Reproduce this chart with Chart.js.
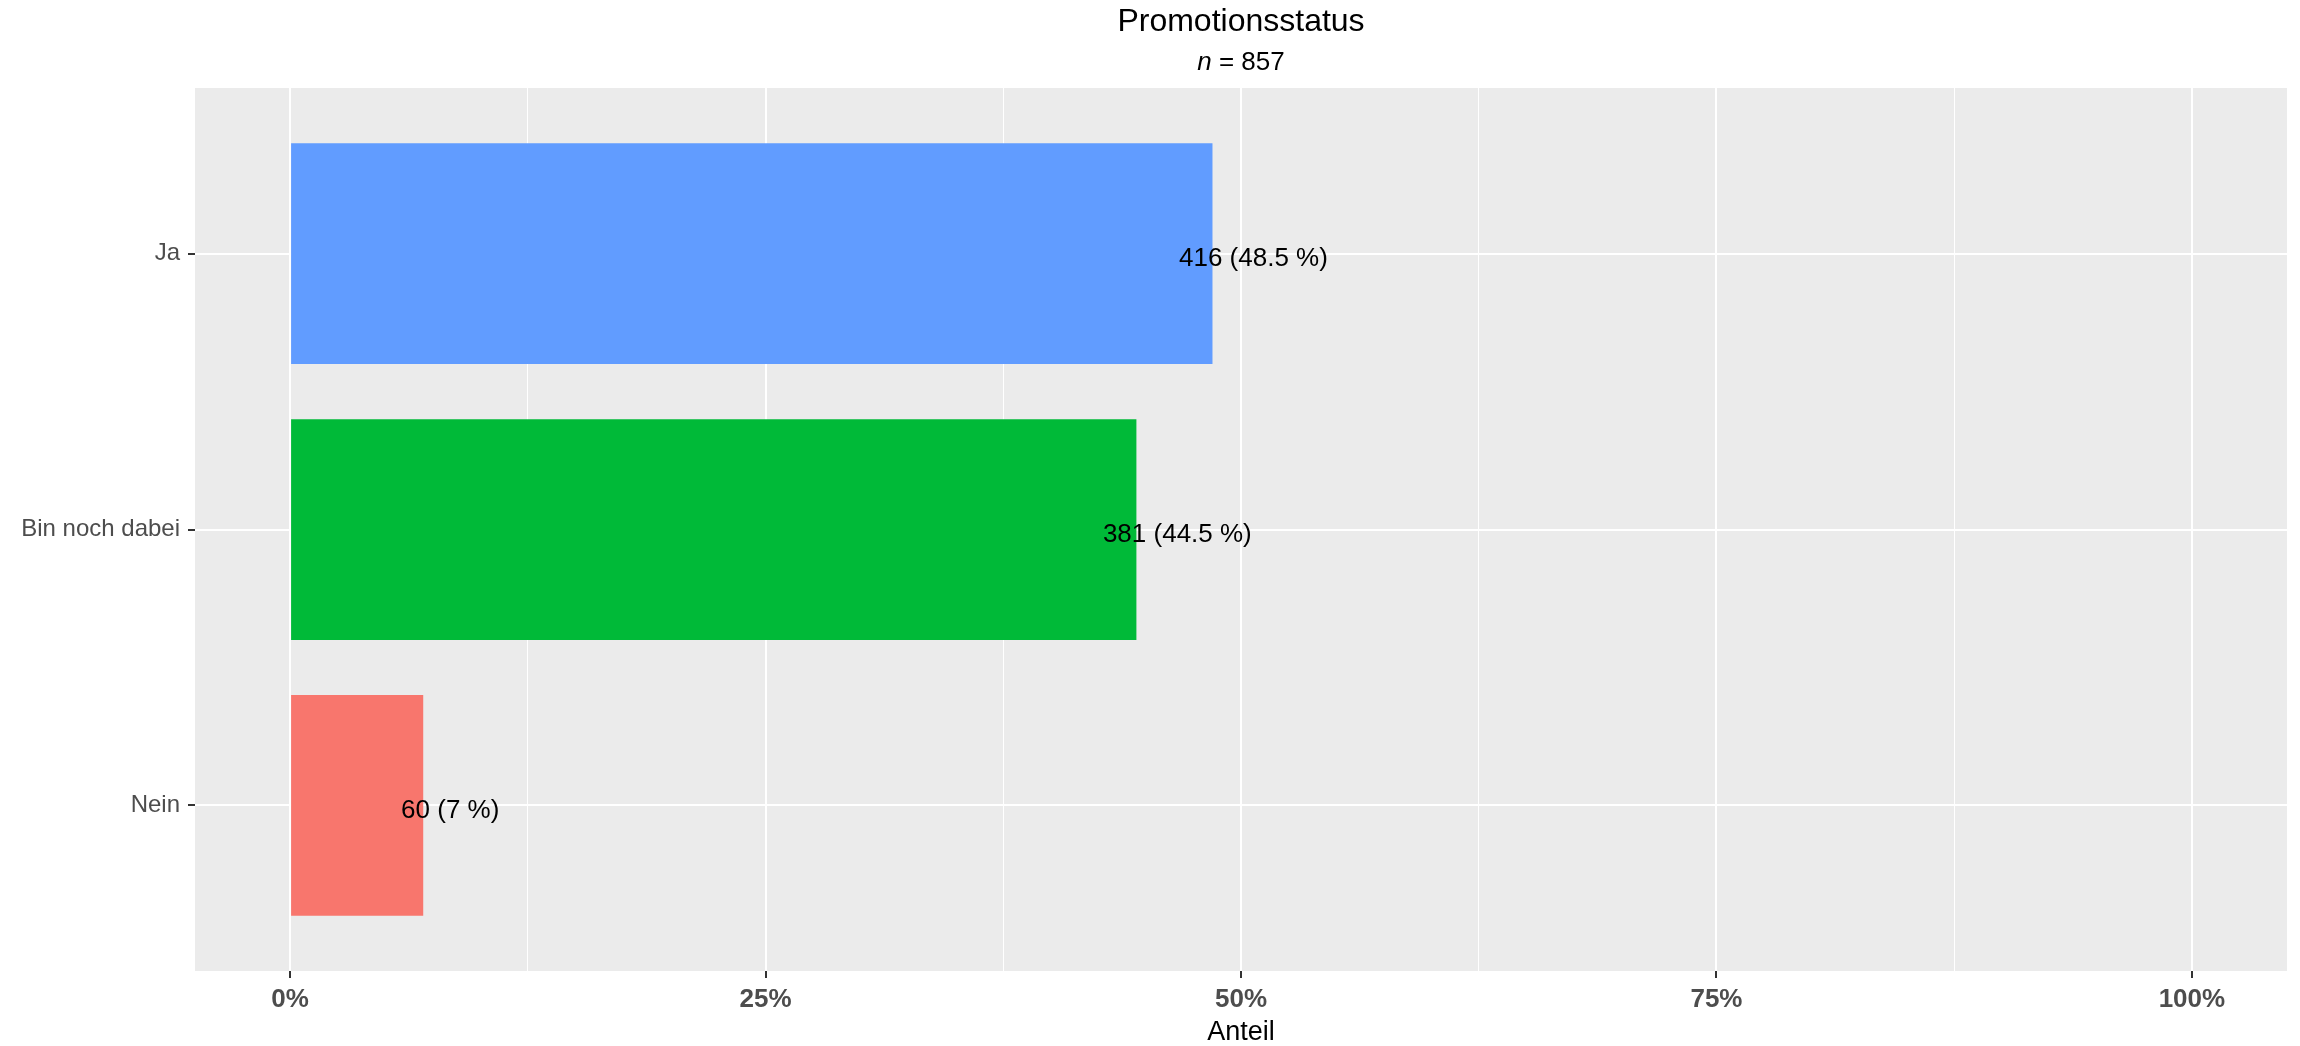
<!DOCTYPE html>
<html>
<head>
<meta charset="utf-8">
<script src="https://cdn.jsdelivr.net/npm/chart.js@4"></script>
<style>
  body { margin: 0; background: #fff; }
  #wrap { width: 2300px; height: 1046px; }
</style>
</head>
<body>
<div id="wrap"><canvas id="chart" width="2300" height="1046"></canvas></div>
<script>
// Promotionsstatus — horizontal bars, ggplot look

const categories = ["Ja", "Bin noch dabei", "Nein"];
const counts = [416, 381, 60];
const shares = [0.485, 0.445, 0.07];        // Anteil
const shareLabels = ["48.5", "44.5", "7"];   // as printed
const barColors = ["#619CFF", "#00BA38", "#F8766D"];

const xMajorTicks = [0, 0.25, 0.5, 0.75, 1];
const xMinorTicks = [0.125, 0.375, 0.625, 0.875];

const chartTitle = "Promotionsstatus";
const nTotal = 857;
const xTitle = "Anteil";

const FONT = "'Liberation Sans', Arial, sans-serif";
const AXIS_GREY = "#4D4D4D";

const isMajor = (v) => xMajorTicks.some(m => Math.abs(m - v) < 1e-9);

// panel background + titles
const panelPlugin = {
  id: "panel",
  beforeDraw(chart) {
    const { ctx, chartArea: a } = chart;
    ctx.save();
    ctx.fillStyle = "#fff";
    ctx.fillRect(0, 0, chart.width, chart.height);
    ctx.fillStyle = "#EBEBEB";
    ctx.fillRect(a.left, a.top, a.right - a.left, a.bottom - a.top);

    const cx = (a.left + a.right) / 2;
    ctx.fillStyle = "#000";
    ctx.textBaseline = "middle";
    ctx.textAlign = "center";
    ctx.font = `32px ${FONT}`;
    ctx.fillText(chartTitle, cx, 22);

    // subtitle: italic n = 857
    const nPart = "n";
    const rest = " = " + nTotal;
    ctx.font = `italic 26px ${FONT}`;
    const w1 = ctx.measureText(nPart).width;
    ctx.font = `26px ${FONT}`;
    const w2 = ctx.measureText(rest).width;
    let x0 = cx - (w1 + w2) / 2;
    ctx.textAlign = "left";
    ctx.font = `italic 26px ${FONT}`;
    ctx.fillText(nPart, x0, 63);
    ctx.font = `26px ${FONT}`;
    ctx.fillText(rest, x0 + w1, 63);
    ctx.restore();
  }
};

// value labels at bar ends
const labelPlugin = {
  id: "barLabels",
  afterDatasetsDraw(chart) {
    const { ctx } = chart;
    const xs = chart.scales.x, ys = chart.scales.y;
    ctx.save();
    ctx.font = `26px ${FONT}`;
    ctx.fillStyle = "#000";
    ctx.textBaseline = "middle";
    ctx.textAlign = "left";
    categories.forEach((c, i) => {
      const txt = `${counts[i]} (${shareLabels[i]} %)`;
      const w = ctx.measureText(txt).width;
      const px = xs.getPixelForValue(shares[i]);
      const py = ys.getPixelForValue(i);
      ctx.fillText(txt, px - 0.225 * w, py + 5);
    });
    ctx.restore();
  }
};

new Chart(document.getElementById("chart"), {
  type: "bar",
  data: {
    datasets: [{
      data: shares.map((s, i) => ({ x: s, y: i })),
      backgroundColor: barColors,
      borderWidth: 0,
      barPercentage: 0.8,
      categoryPercentage: 1.0
    }]
  },
  options: {
    indexAxis: "y",
    responsive: false,
    animation: false,
    layout: { padding: { top: 88, right: 13, bottom: 0, left: 0 } },
    plugins: {
      legend: { display: false },
      tooltip: { enabled: false }
    },
    scales: {
      x: {
        type: "linear",
        min: -0.05,
        max: 1.05,
        afterBuildTicks: (scale) => {
          scale.ticks = [...xMajorTicks, ...xMinorTicks].sort((a, b) => a - b).map(v => ({ value: v }));
        },
        afterFit: (scale) => { scale.height = 75; },
        border: { display: false },
        grid: {
          color: "#fff",
          lineWidth: (ctx) => (ctx.tick && isMajor(ctx.tick.value)) ? 2 : 1,
          tickColor: (ctx) => (ctx.tick && isMajor(ctx.tick.value)) ? "#333" : "rgba(0,0,0,0)",
          tickLength: 7,
          tickWidth: 2
        },
        ticks: {
          autoSkip: false,
          maxRotation: 0,
          padding: 6,
          color: AXIS_GREY,
          font: { family: FONT, size: 26, weight: "bold" },
          callback: (v) => isMajor(v) ? Math.round(v * 100) + "%" : ""
        },
        title: {
          display: true,
          text: xTitle,
          color: "#000",
          font: { family: FONT, size: 27, lineHeight: 1 },
          padding: { top: 0, bottom: 0 }
        }
      },
      y: {
        type: "linear",
        reverse: true,
        offset: false,
        min: -0.6,
        max: 2.6,
        afterBuildTicks: (scale) => {
          scale.ticks = categories.map((_, i) => ({ value: i }));
        },
        afterFit: (scale) => { scale.width = 195; },
        border: { display: false },
        grid: {
          offset: false,
          color: "#fff",
          lineWidth: 2,
          tickColor: "#333",
          tickLength: 7,
          tickWidth: 2
        },
        ticks: {
          autoSkip: false,
          padding: 8,
          color: AXIS_GREY,
          font: { family: FONT, size: 24 },
          callback: (v) => categories[v] ?? ""
        }
      }
    }
  },
  plugins: [panelPlugin, labelPlugin]
});
</script>
</body>
</html>
